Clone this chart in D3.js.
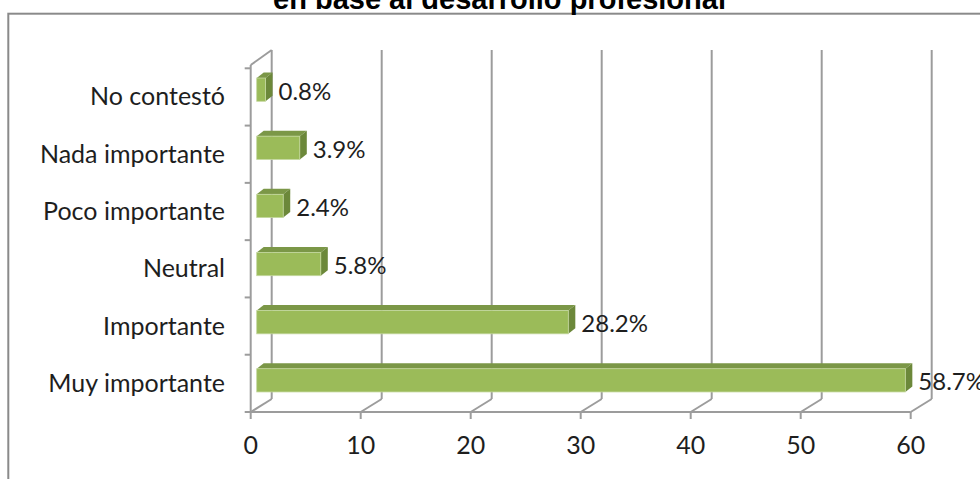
<!DOCTYPE html>
<html>
<head>
<meta charset="utf-8">
<script src="https://cdn.jsdelivr.net/npm/d3@7"></script>
<style>
  html, body { margin: 0; padding: 0; background: #ffffff; }
  svg { display: block; }
</style>
</head>
<body>
<svg id="chart" width="980" height="479"></svg>
<script>
// Survey answers, listed from the top row of the chart down
const categories = ["No contestó", "Nada importante", "Poco importante", "Neutral", "Importante", "Muy importante"];
const values = [0.8, 3.9, 2.4, 5.8, 28.2, 58.7];
const valueLabels = ["0.8%", "3.9%", "2.4%", "5.8%", "28.2%", "58.7%"];
const xTicks = [0, 10, 20, 30, 40, 50, 60];
const titleText = "en base al desarrollo profesional";

const svg = d3.select("#chart");
const labelFont = "Lato, 'Open Sans', sans-serif";
const lineColor = "#9c9c9c";
const textColor = "#1e1e1e";

// Front plane (axes), back wall (gridlines) and the mid-depth plane the bars sit on
const xFront = d3.scaleLinear().domain([0, 60]).range([250.7, 910.7]);
const xBack = d3.scaleLinear().domain([0, 60]).range([271.7, 931.7]);
const xBar = d3.scaleLinear().domain([0, 60]).range([256.7, 919.7]);
const yFront = d3.scaleBand().domain(categories).range([68.3, 412]);
const yBar = d3.scaleBand().domain(categories).range([60.6, 409.4])
  .paddingInner(0.6).paddingOuter(0.3);

const frontBottom = 412, backBottom = 399, backTop = 50, frontTop = 65;
const barDx = 7, barDy = -5.5;

// Outer chart frame
svg.append("rect")
  .attr("x", 8.3).attr("y", 13.7)
  .attr("width", 1000).attr("height", 500)
  .attr("fill", "#ffffff")
  .attr("stroke", "#8a8a8a").attr("stroke-width", 2);

// Title
svg.append("text")
  .attr("x", 499.5).attr("y", 8.5)
  .attr("text-anchor", "middle")
  .attr("font-family", "'Liberation Sans', Arial, sans-serif")
  .attr("font-weight", "bold")
  .attr("font-size", 29)
  .attr("fill", "#000000")
  .text(titleText);

const grid = svg.append("g")
  .attr("stroke", lineColor).attr("stroke-width", 2).attr("fill", "none");

// Back-wall vertical gridlines
grid.selectAll("line.back").data(xTicks).join("line")
  .attr("class", "back")
  .attr("x1", d => xBack(d)).attr("x2", d => xBack(d))
  .attr("y1", backTop).attr("y2", backBottom);

// Floor diagonals joining the front axis to the back wall
grid.selectAll("line.floor").data(xTicks).join("line")
  .attr("class", "floor")
  .attr("x1", d => xFront(d)).attr("y1", frontBottom)
  .attr("x2", d => xBack(d)).attr("y2", backBottom);

// Left wall: front edge and its top diagonal
grid.append("line")
  .attr("x1", xFront(0)).attr("x2", xFront(0))
  .attr("y1", frontTop).attr("y2", frontBottom);
grid.append("line")
  .attr("x1", xFront(0)).attr("y1", frontTop)
  .attr("x2", xBack(0)).attr("y2", backTop);

// Front value axis line and ticks
grid.append("line")
  .attr("x1", xFront(0)).attr("x2", xFront(60))
  .attr("y1", frontBottom).attr("y2", frontBottom);
grid.selectAll("line.xtick").data(xTicks).join("line")
  .attr("class", "xtick")
  .attr("x1", d => xFront(d)).attr("x2", d => xFront(d))
  .attr("y1", frontBottom).attr("y2", frontBottom + 7);

// Category axis ticks at band boundaries
const catBounds = categories.map(c => yFront(c)).concat([yFront.range()[1]]);
grid.selectAll("line.ytick").data(catBounds).join("line")
  .attr("class", "ytick")
  .attr("x1", xFront(0) - 6).attr("x2", xFront(0))
  .attr("y1", d => d).attr("y2", d => d);

// Value axis tick labels
svg.append("g").selectAll("text").data(xTicks).join("text")
  .attr("x", d => xFront(d)).attr("y", 454)
  .attr("text-anchor", "middle")
  .attr("font-family", labelFont).attr("font-size", 25)
  .attr("fill", textColor)
  .text(d => d);

// Category labels
svg.append("g").selectAll("text").data(categories).join("text")
  .attr("x", 225)
  .attr("y", d => yFront(d) + yFront.bandwidth() / 2 + 8.5)
  .attr("text-anchor", "end")
  .attr("font-family", labelFont).attr("font-size", 25)
  .attr("fill", textColor)
  .text(d => d);

// 3D bars: front face, top face and right side face
const rows = categories.map((c, i) => ({ cat: c, value: values[i], label: valueLabels[i] }));
const bars = svg.append("g").selectAll("g").data(rows).join("g");
const bw = yBar.bandwidth();

bars.append("polygon")
  .attr("points", d => {
    const x0 = xBar(0), x1 = xBar(d.value), y0 = yBar(d.cat);
    return [[x0, y0], [x1, y0], [x1 + barDx, y0 + barDy], [x0 + barDx, y0 + barDy]].join(" ");
  })
  .attr("fill", "#7b9747");

bars.append("polygon")
  .attr("points", d => {
    const x1 = xBar(d.value), y0 = yBar(d.cat);
    return [[x1, y0], [x1 + barDx, y0 + barDy], [x1 + barDx, y0 + bw + barDy], [x1, y0 + bw]].join(" ");
  })
  .attr("fill", "#6c883a");

bars.append("rect")
  .attr("x", xBar(0))
  .attr("y", d => yBar(d.cat))
  .attr("width", d => xBar(d.value) - xBar(0))
  .attr("height", bw)
  .attr("fill", "#9bbb59")
  .attr("stroke", "#c4d79e").attr("stroke-width", 0.8);

// Value labels beside each bar
bars.append("text")
  .attr("x", d => xBar(d.value) + barDx + 6)
  .attr("y", d => yBar(d.cat) + bw / 2 + 10)
  .attr("font-family", labelFont).attr("font-size", 24)
  .attr("fill", textColor)
  .text(d => d.label);
</script>
</body>
</html>
